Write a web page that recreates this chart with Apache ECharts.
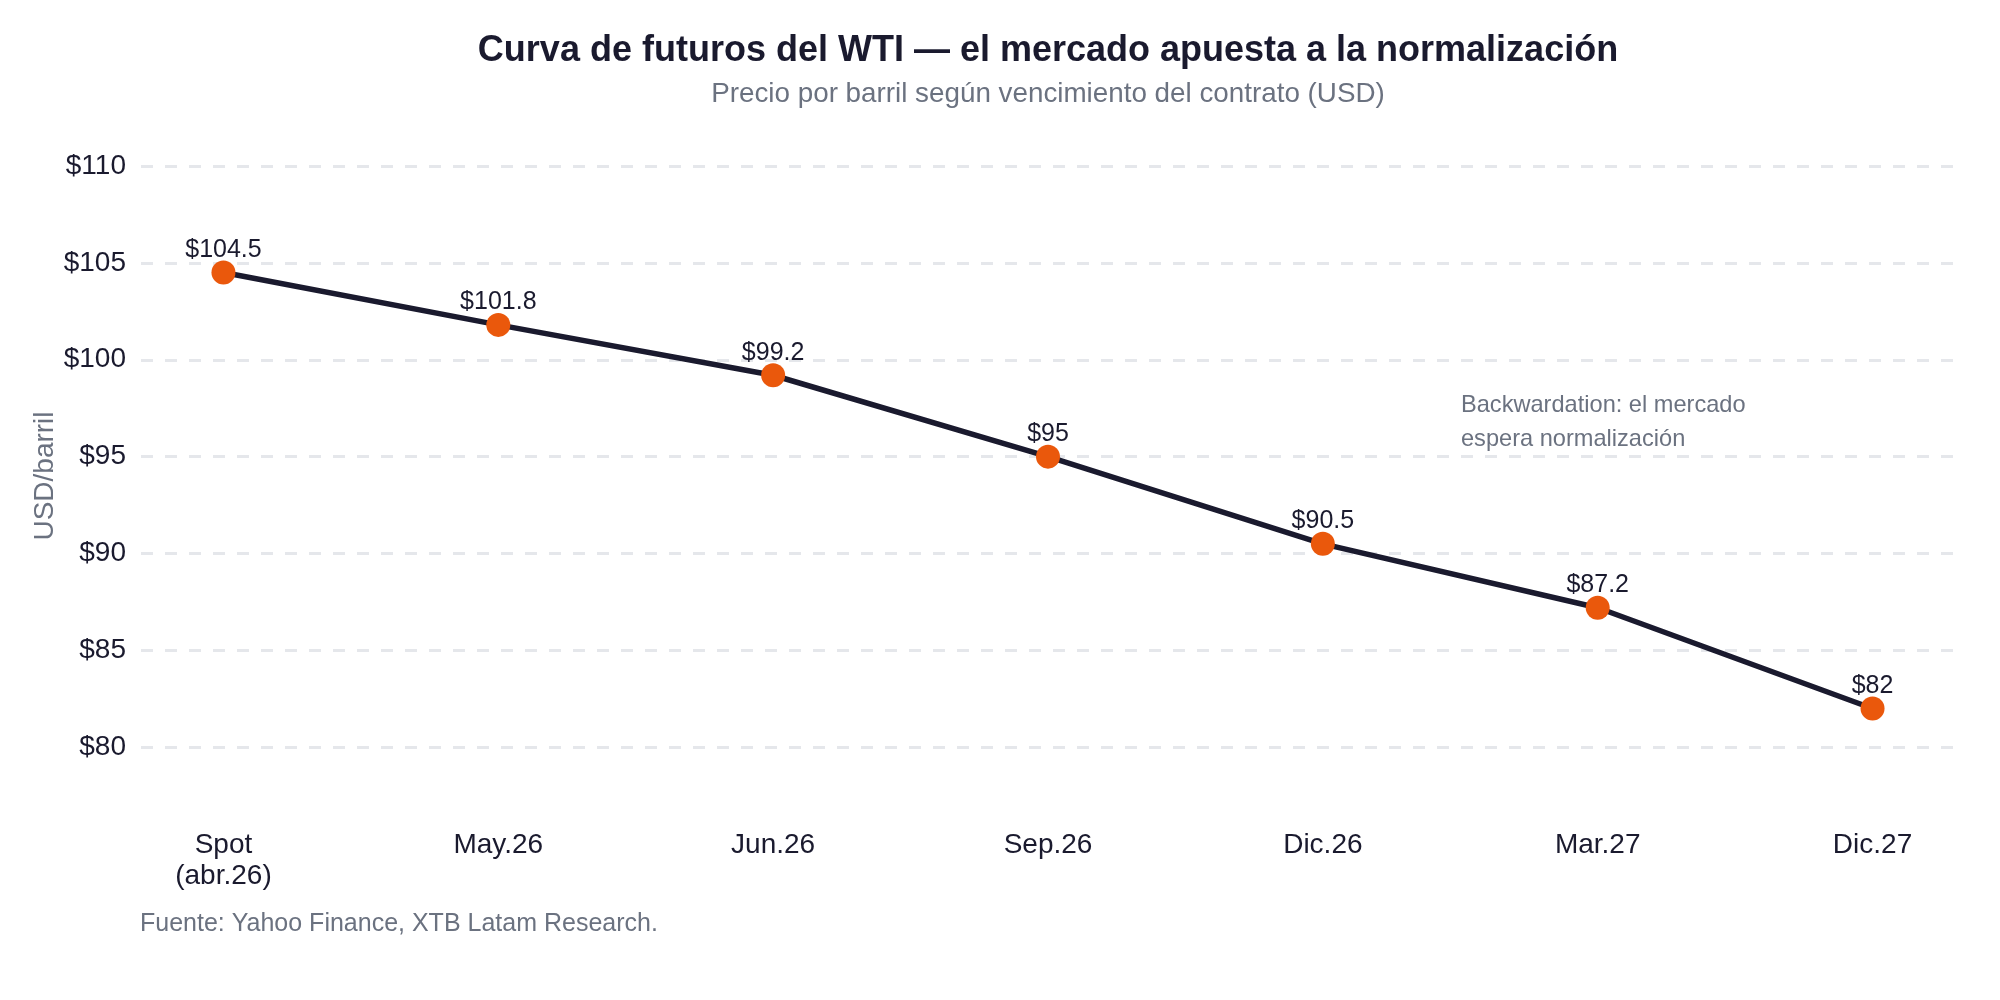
<!DOCTYPE html>
<html>
<head>
<meta charset="utf-8">
<script src="https://cdn.jsdelivr.net/npm/echarts@6/dist/echarts.min.js"></script>
<style>
html,body{margin:0;padding:0;background:#fff;}
#chart{width:2000px;height:1000px;}
</style>
</head>
<body>
<div id="chart"></div>
<script>
const categories = ['Spot\n(abr.26)', 'May.26', 'Jun.26', 'Sep.26', 'Dic.26', 'Mar.27', 'Dic.27'];
const prices = [104.5, 101.8, 99.2, 95, 90.5, 87.2, 82];
const titleText = 'Curva de futuros del WTI — el mercado apuesta a la normalización';
const subtitleText = 'Precio por barril según vencimiento del contrato (USD)';
const sourceText = 'Fuente: Yahoo Finance, XTB Latam Research.';
const noteText = 'Backwardation: el mercado\nespera normalización';
const yAxisName = 'USD/barril';

const FONT = '"Liberation Sans", Arial, sans-serif';
const chart = echarts.init(document.getElementById('chart'));
const option = {
  backgroundColor: '#ffffff',
  animation: false,
  textStyle: { fontFamily: FONT },
  title: [
    {
      text: titleText,
      subtext: subtitleText,
      left: 1048,
      top: 33,
      padding: 0,
      textAlign: 'center',
      itemGap: 11,
      textStyle: { fontFamily: FONT, fontSize: 36, fontWeight: 'bold', color: '#1a1a2e', lineHeight: 36 },
      subtextStyle: { fontFamily: FONT, fontSize: 27.8, color: '#6b7280', lineHeight: 28 }
    },
    {
      text: sourceText,
      left: 140,
      top: 912,
      padding: 0,
      textStyle: { fontFamily: FONT, fontSize: 25, fontWeight: 'normal', color: '#6b7280', lineHeight: 25 }
    }
  ],
  grid: { left: 141, right: 45, top: 166, bottom: 214, containLabel: false },
  xAxis: {
    type: 'value',
    min: -0.3,
    max: 6.3,
    axisLine: { show: false },
    axisTick: { show: false },
    splitLine: { show: false },
    axisLabel: {
      customValues: categories.map((c, i) => i),
      formatter: v => (Number.isInteger(v) && categories[v] !== undefined) ? categories[v] : '',
      margin: 44,
      fontSize: 28,
      lineHeight: 31,
      color: '#1a1a2e',
      fontFamily: FONT
    }
  },
  yAxis: {
    type: 'value',
    min: 78,
    max: 110,
    splitNumber: 6,
    name: yAxisName,
    nameLocation: 'middle',
    nameGap: 82,
    nameMoveOverlap: false,
    nameTextStyle: { fontSize: 28, color: '#6b7280', fontFamily: FONT },
    axisLine: { show: false },
    axisTick: { show: false },
    axisLabel: {
      formatter: v => '$' + v,
      showMinLabel: false,
      margin: 15,
      fontSize: 28,
      color: '#1a1a2e',
      fontFamily: FONT
    },
    splitLine: {
      show: true,
      showMinLine: false,
      lineStyle: { color: '#e5e7eb', width: 3, type: [12, 12] }
    }
  },
  series: [{
    type: 'line',
    data: prices.map((p, i) => [i, p]),
    symbol: 'circle',
    symbolSize: 24,
    lineStyle: { color: '#1a1a2e', width: 5.5 },
    itemStyle: { color: '#ea580c', borderWidth: 0 },
    label: {
      show: true,
      position: 'top',
      distance: 2,
      offset: [0, 4],
      formatter: p => '$' + p.value[1],
      fontSize: 25,
      color: '#1a1a2e',
      fontFamily: FONT
    },
    z: 3
  }],
  graphic: [{
    type: 'text',
    left: 1461,
    top: 388,
    style: {
      text: noteText,
      fontSize: 23.6,
      lineHeight: 34,
      fill: '#6b7280',
      fontFamily: FONT
    }
  }]
};
chart.setOption(option);
</script>
</body>
</html>
